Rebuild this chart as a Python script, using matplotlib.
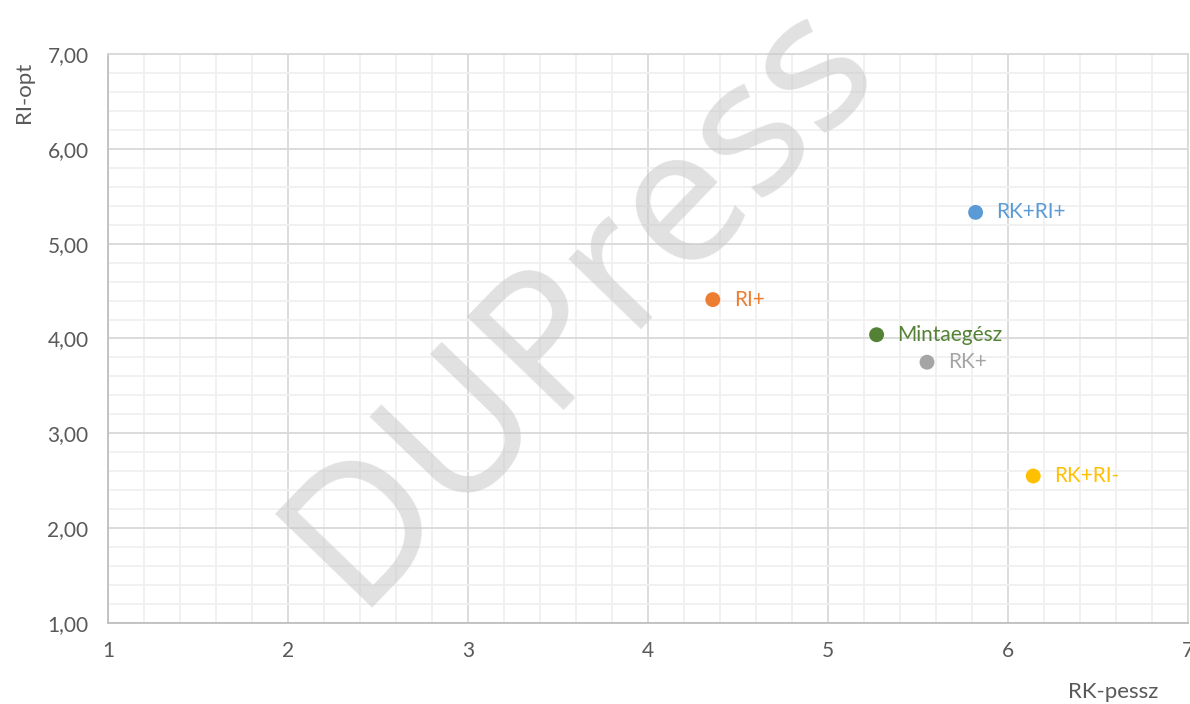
import matplotlib.pyplot as plt
from matplotlib.ticker import MultipleLocator, FuncFormatter

plt.rcParams['font.family'] = ['Lato', 'DejaVu Sans']

# data
groups = ["RK+RI+", "RI+", "Mintaegész", "RK+", "RK+RI-"]
rk_pessz = [5.82, 4.36, 5.27, 5.55, 6.14]
ri_opt = [5.33, 4.41, 4.04, 3.75, 2.55]
colors = ["#5B9BD5", "#ED7D31", "#548235", "#A5A5A5", "#FFC000"]

fig = plt.figure(figsize=(11.9, 7.04), dpi=100)
ax = fig.add_axes([108 / 1190, 1 - 623 / 704, 1080 / 1190, 569 / 704])

ax.set_xlim(1, 7)
ax.set_ylim(1, 7)
ax.xaxis.set_major_locator(MultipleLocator(1))
ax.yaxis.set_major_locator(MultipleLocator(1))
ax.xaxis.set_minor_locator(MultipleLocator(0.2))
ax.yaxis.set_minor_locator(MultipleLocator(0.2))
ax.yaxis.set_major_formatter(FuncFormatter(lambda v, p: f"{v:.2f}".replace(".", ",")))

ax.grid(which="major", color="#D9D9D9", linewidth=1.3)
ax.grid(which="minor", color="#F0F0F0", linewidth=1.3)
ax.set_axisbelow(True)
for s in ["left", "bottom"]:
    ax.spines[s].set_color("#BFBFBF")
    ax.spines[s].set_linewidth(1.3)
for s in ["top", "right"]:
    ax.spines[s].set_color("#D9D9D9")
    ax.spines[s].set_linewidth(1.3)
ax.tick_params(which="both", length=0, labelsize=15, labelcolor="#595959")
ax.tick_params(axis="x", pad=13)
ax.tick_params(axis="y", pad=14)

# watermark
fig.text(0.489, 0.572, "DUPress", fontsize=136, color="#C8C8C8", alpha=0.55,
         rotation=46, ha="center", va="center", zorder=5, fontweight="medium",
         family=["Noto Sans", "DejaVu Sans"])

for name, x, y, c in zip(groups, rk_pessz, ri_opt, colors):
    ax.scatter(x, y, s=115, color=c, zorder=3, edgecolors="none")
    ax.annotate(name, (x, y), xytext=(15, 0), textcoords="offset points",
                color=c, fontsize=15, va="center", ha="left")

fig.text(1113 / 1190, 1 - 692 / 704, "RK-pessz", fontsize=16, color="#595959",
         ha="center", va="center")
fig.text(24 / 1190, 1 - 92 / 704, "RI-opt", fontsize=16, color="#595959",
         ha="center", va="center", rotation=90)

fig.savefig("out.png", dpi=100)
